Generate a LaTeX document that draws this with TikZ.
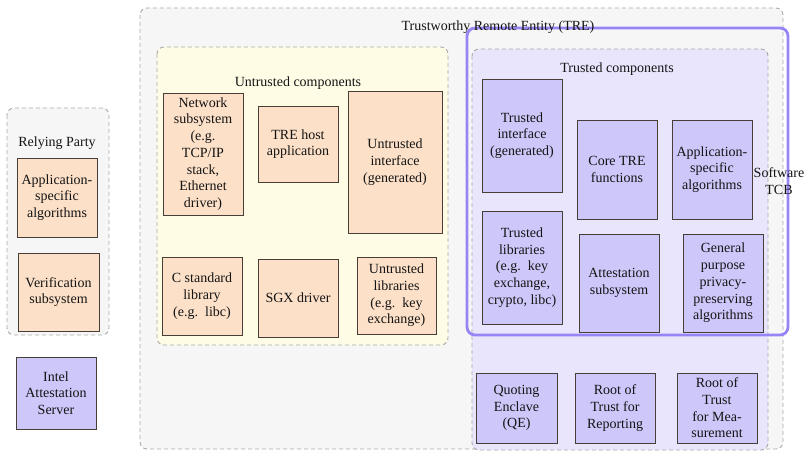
\documentclass[tikz,border=0pt]{standalone}
\usepackage{fontspec}
\setmainfont{Liberation Serif}
\definecolor{peach}{RGB}{252,224,200}
\definecolor{purp}{RGB}{206,199,250}
\definecolor{lav}{RGB}{233,229,252}
\definecolor{tcb}{RGB}{150,134,245}
\definecolor{yel}{RGB}{255,252,230}
\definecolor{grayarea}{RGB}{246,246,246}
\definecolor{dashgray}{RGB}{170,170,170}
\definecolor{edge}{RGB}{70,62,55}
\begin{document}
\begin{tikzpicture}[x=1pt,y=-1pt,
  every node/.style={font=\fontsize{14}{16.7}\selectfont, text=black!92},
  cont/.style={draw=dashgray, dash pattern=on 4pt off 3pt, line width=0.9pt, rounded corners=7pt, inner sep=0pt},
  obox/.style={draw=edge, fill=peach, line width=0.9pt, align=center, inner sep=1pt},
  pbox/.style={draw=edge, fill=purp, line width=0.9pt, align=center, inner sep=1pt},
  lbl/.style={inner sep=0pt, align=center}]
\useasboundingbox (0,0) rectangle (806,452);
% containers
\draw[cont, fill=grayarea] (7,108) rectangle (109,335);
\draw[cont, fill=grayarea] (140,8) rectangle (783,449);
\draw[cont, fill=yel] (157,47) rectangle (448,345);
\draw[cont, fill=lav] (472,49) rectangle (768,450);
\draw[draw=tcb, line width=2.8pt, rounded corners=8pt] (467,28) rectangle (788,335);
% Relying party
\node[lbl] (rp) at (57,143) {Relying Party};
\node[obox, minimum width=80pt, minimum height=79pt] (rpapp) at (57,197.5) {Application-\\specific\\algorithms};
\node[obox, minimum width=81pt, minimum height=78pt] (rpver) at (58.5,292) {Verification\\subsystem};
\node[pbox, minimum width=80pt, minimum height=72pt] (ias) at (56,393) {Intel\\Attestation\\Server};
% TRE
\node[lbl] (tre) at (498,27) {Trustworthy Remote Entity (TRE)};
\node[lbl] (unt) at (298,83) {Untrusted components};
\node[obox, minimum width=80pt, minimum height=122pt] (net) at (203,154) {Network\\subsystem\\(e.g.\\TCP/IP\\stack,\\Ethernet\\driver)};
\node[obox, minimum width=80pt, minimum height=76pt] (host) at (298,144) {TRE host\\application};
\node[obox, minimum width=94pt, minimum height=142pt] (uif) at (395,162) {Untrusted\\interface\\(generated)};
\node[obox, minimum width=80pt, minimum height=78pt] (libc) at (202,296) {C standard\\library\\(e.g.~~libc)};
\node[obox, minimum width=80pt, minimum height=78pt] (sgx) at (298,298) {SGX driver};
\node[obox, minimum width=79pt, minimum height=77pt] (ulib) at (396.5,295.5) {Untrusted\\libraries\\(e.g.~~key\\exchange)};
% trusted
\node[lbl] (tc) at (617,69) {Trusted components};
\node[lbl] (stcb) at (779,181) {Software\\TCB};
\node[pbox, minimum width=80pt, minimum height=113pt] (tif) at (522,135.5) {Trusted\\interface\\(generated)};
\node[pbox, minimum width=80pt, minimum height=99pt] (core) at (617,169.5) {Core TRE\\functions};
\node[pbox, minimum width=80pt, minimum height=99pt] (tapp) at (712,169.5) {Application-\\specific\\algorithms};
\node[pbox, minimum width=80pt, minimum height=113pt] (tlib) at (522,267.5) {Trusted\\libraries\\(e.g.~~key\\exchange,\\crypto, libc)};
\node[pbox, minimum width=80pt, minimum height=98pt] (att) at (619,283) {Attestation\\subsystem};
\node[pbox, minimum width=80pt, minimum height=98pt] (gen) at (723,283) {General\\purpose\\privacy-\\preserving\\algorithms};
\node[pbox, minimum width=81pt, minimum height=70pt] (qe) at (516.5,408) {Quoting\\Enclave\\(QE)};
\node[pbox, minimum width=80pt, minimum height=70pt] (rtr) at (615,408) {Root of\\Trust for\\Reporting};
\node[pbox, minimum width=80pt, minimum height=70pt] (rtm) at (717,408) {Root of\\Trust\\for Mea-\\surement};
\end{tikzpicture}
\end{document}
